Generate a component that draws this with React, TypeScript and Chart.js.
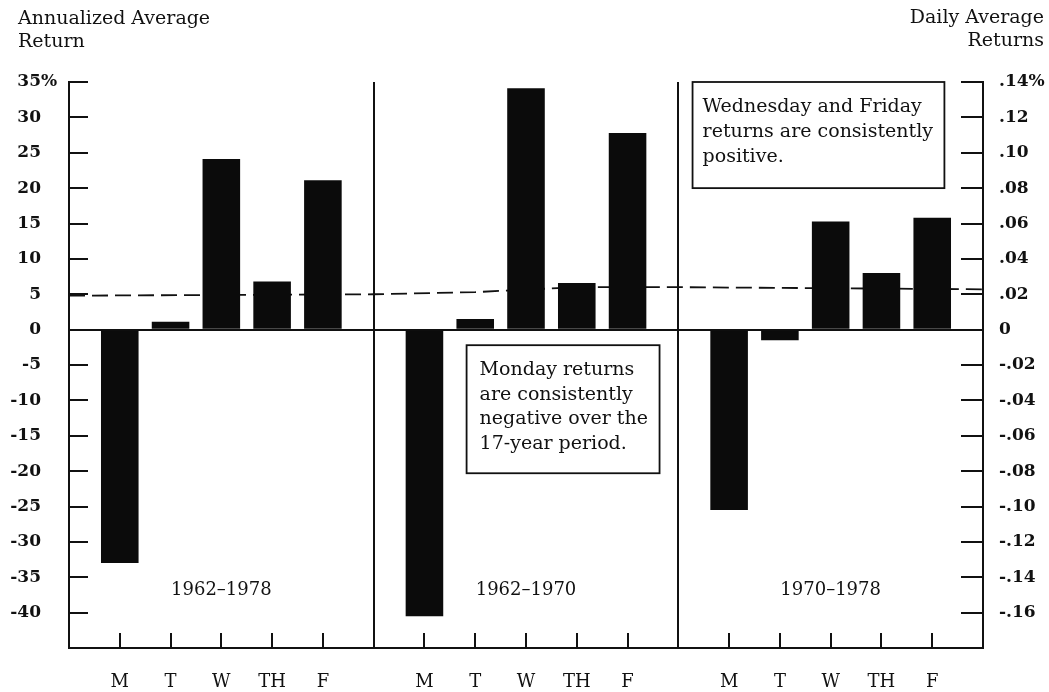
import React, { useEffect, useRef } from 'react';
import { Chart, registerables } from 'chart.js';

Chart.register(...registerables);

// ---- data ----
const days = ['M', 'T', 'W', 'TH', 'F'];
const periods = ['1962–1978', '1962–1970', '1970–1978'];
const returns1962to1978 = [-33.0, 1.1, 24.1, 6.8, 21.1];
const returns1962to1970 = [-40.5, 1.5, 34.1, 6.6, 27.8];
const returns1970to1978 = [-25.5, -1.5, 15.3, 8.0, 15.8];
// dashed reference level (annualized %), read at a few category positions
const refLineIndex = [0, 6, 8, 10, 12, 18];
const refLineValue = [4.8, 5.0, 5.3, 6.0, 6.0, 5.7];
const leftTicks = [35, 30, 25, 20, 15, 10, 5, 0, -5, -10, -15, -20, -25, -30, -35, -40];
const rightTicks = [0.14, 0.12, 0.1, 0.08, 0.06, 0.04, 0.02, 0, -0.02, -0.04, -0.06, -0.08, -0.1, -0.12, -0.14, -0.16];
const leftTitle = ['Annualized Average', 'Return'];
const rightTitle = ['Daily Average', 'Returns'];
const mondayNote = ['Monday returns', 'are consistently', 'negative over the', '17-year period.'];
const wedFriNote = ['Wednesday and Friday', 'returns are consistently', 'positive.'];

const FONT = '"DejaVu Serif", serif';
const INK = '#111';

const labels: string[] = [''];
const barData: (number | null)[] = [null];
[returns1962to1978, returns1962to1970, returns1970to1978].forEach((series) => {
  days.forEach((d, i) => {
    labels.push(d);
    barData.push(series[i]);
  });
  labels.push('');
  barData.push(null);
});
const lineData: (number | null)[] = labels.map(() => null);
refLineIndex.forEach((idx, i) => {
  lineData[idx] = refLineValue[i];
});

function fmtRight(v: number) {
  const r = Math.round(v * 100);
  if (r === 0) return '0';
  const s = '.' + String(Math.abs(r)).padStart(2, '0');
  const out = (r < 0 ? '-' : '') + s;
  return r === 14 ? out + '%' : out;
}

const decor = {
  id: 'decor',
  afterDraw(chart: any) {
    const { ctx, chartArea } = chart;
    const x = chart.scales.x;
    const y = chart.scales.y;
    ctx.save();
    ctx.strokeStyle = INK;
    ctx.fillStyle = INK;
    ctx.lineWidth = 2;
    // inward tick marks
    leftTicks.forEach((v) => {
      const py = Math.round(y.getPixelForValue(v));
      ctx.beginPath();
      ctx.moveTo(chartArea.left, py);
      ctx.lineTo(chartArea.left + 19, py);
      ctx.stroke();
    });
    const y2 = chart.scales.y2;
    rightTicks.forEach((v) => {
      const py = Math.round(y2.getPixelForValue(v));
      ctx.beginPath();
      ctx.moveTo(chartArea.right - 22, py);
      ctx.lineTo(chartArea.right, py);
      ctx.stroke();
    });
    labels.forEach((l, i) => {
      if (!l) return;
      const px = Math.round(x.getPixelForValue(i));
      ctx.beginPath();
      ctx.moveTo(px, chartArea.bottom);
      ctx.lineTo(px, chartArea.bottom - 15);
      ctx.stroke();
    });
    // left tick labels
    ctx.font = 'bold 17px ' + FONT;
    ctx.textBaseline = 'middle';
    leftTicks.forEach((v) => {
      const py = y.getPixelForValue(v);
      ctx.textAlign = 'right';
      ctx.fillText(String(v), 41, py);
      if (v === 35) {
        ctx.textAlign = 'left';
        ctx.fillText('%', 41, py);
      }
    });
    // titles
    ctx.font = '19px ' + FONT;
    ctx.textAlign = 'left';
    leftTitle.forEach((t, i) => ctx.fillText(t, 18, 19 + i * 23));
    ctx.textAlign = 'right';
    rightTitle.forEach((t, i) => ctx.fillText(t, 1044, 18 + i * 23));
    // period labels
    ctx.font = '18px ' + FONT;
    ctx.textAlign = 'center';
    periods.forEach((p, i) => {
      ctx.fillText(p, x.getPixelForValue(i * 6 + 3), y.getPixelForValue(-36.8));
    });
    // annotation boxes
    const drawBox = (lines: string[], x0: number, x1: number, v0: number, v1: number, padL: number, firstY: number, gap: number) => {
      const bx0 = x.getPixelForValue(x0);
      const bx1 = x.getPixelForValue(x1);
      const by0 = y.getPixelForValue(v0);
      const by1 = y.getPixelForValue(v1);
      ctx.fillStyle = '#fff';
      ctx.fillRect(bx0, by0, bx1 - bx0, by1 - by0);
      ctx.fillStyle = INK;
      ctx.lineWidth = 1.8;
      ctx.strokeRect(bx0, by0, bx1 - bx0, by1 - by0);
      ctx.font = '19px ' + FONT;
      ctx.textAlign = 'left';
      ctx.textBaseline = 'middle';
      lines.forEach((t, i) => ctx.fillText(t, bx0 + padL, by0 + firstY + i * gap));
    };
    drawBox(mondayNote, 7.83, 11.63, -2.2, -20.3, 13, 25, 24.5);
    drawBox(wedFriNote, 12.28, 17.24, 35, 20.0, 10, 25, 25);
    ctx.restore();
  },
};

export default function App() {
  const ref = useRef<HTMLCanvasElement | null>(null);
  useEffect(() => {
    if (!ref.current) return;
    const chart = new Chart(ref.current, {
      type: 'bar',
      data: {
        labels,
        datasets: [
          {
            type: 'bar',
            data: barData,
            backgroundColor: '#0b0b0b',
            borderWidth: 0,
            barPercentage: 0.74,
            categoryPercentage: 1,
            order: 0,
            yAxisID: 'y',
          } as any,
          {
            type: 'line',
            data: lineData,
            borderColor: '#111',
            borderWidth: 1.8,
            borderDash: [16, 7],
            pointRadius: 0,
            spanGaps: true,
            fill: false,
            order: 1,
            yAxisID: 'y',
          } as any,
        ],
      },
      options: {
        animation: false,
        responsive: false,
        events: [],
        layout: { padding: { top: 82, left: 0, right: 0, bottom: 0 } },
        plugins: { legend: { display: false }, tooltip: { enabled: false }, title: { display: false } },
        scales: {
          x: {
            type: 'category',
            offset: false,
            grid: {
              offset: false,
              drawTicks: false,
              lineWidth: 2,
              color: (c: any) => (c.index === 6 || c.index === 12 ? INK : 'rgba(0,0,0,0)'),
            },
            border: { display: true, color: INK, width: 2 },
            ticks: {
              autoSkip: false,
              maxRotation: 0,
              padding: 24,
              color: INK,
              font: { family: FONT, size: 18 },
            },
            afterFit: (s: any) => {
              s.height = 44;
            },
          },
          y: {
            position: 'left',
            min: -45,
            max: 35,
            afterBuildTicks: (s: any) => {
              s.ticks = leftTicks.map((v) => ({ value: v }));
            },
            ticks: { display: false },
            grid: {
              drawTicks: false,
              lineWidth: 2,
              color: (c: any) => (c.tick && c.tick.value === 0 ? INK : 'rgba(0,0,0,0)'),
            },
            border: { display: true, color: INK, width: 2 },
            afterFit: (s: any) => {
              s.width = 69;
            },
          },
          y2: {
            position: 'right',
            min: -0.18,
            max: 0.14,
            afterBuildTicks: (s: any) => {
              s.ticks = rightTicks.map((v) => ({ value: v }));
            },
            ticks: {
              padding: 16,
              color: INK,
              font: { family: FONT, size: 17, weight: 'bold' },
              callback: (v: any) => fmtRight(Number(v)),
            },
            grid: { drawOnChartArea: false, drawTicks: false },
            border: { display: true, color: INK, width: 2 },
            afterFit: (s: any) => {
              s.width = 66;
            },
          },
        },
      },
      plugins: [decor],
    } as any);
    return () => chart.destroy();
  }, []);
  return (
    <div style={{ position: 'absolute', left: 0, top: 0, width: 1049, height: 692, background: '#fff' }}>
      <canvas ref={ref} width={1049} height={692} style={{ display: 'block' }} />
    </div>
  );
}
